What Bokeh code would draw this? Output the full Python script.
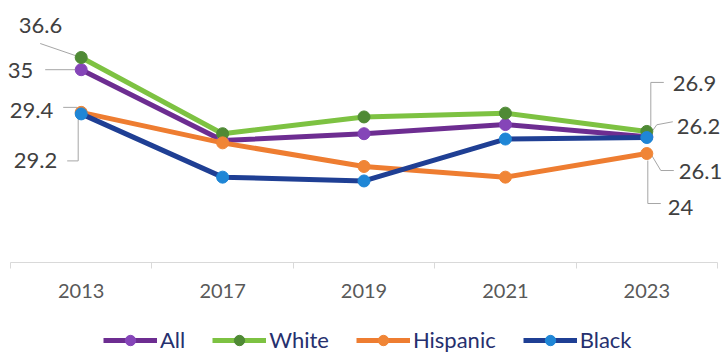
from bokeh.plotting import figure
from bokeh.layouts import column
from bokeh.models import Range1d, FixedTicker, ColumnDataSource, Legend, LegendItem
from bokeh.core.properties import value
from bokeh.embed import file_html
from bokeh.resources import INLINE

# ---------------- data ----------------
years = ["2013", "2017", "2019", "2021", "2023"]
series_names = ["All", "White", "Hispanic", "Black"]
all_vals = [35.0, 25.7, 26.6, 27.8, 26.2]
white_vals = [36.6, 26.6, 28.8, 29.3, 26.9]
hispanic_vals = [29.4, 25.4, 22.3, 20.9, 24.0]
black_vals = [29.2, 20.9, 20.4, 25.9, 26.1]
series_vals = [all_vals, white_vals, hispanic_vals, black_vals]

# ---------------- style ----------------
line_colors = ["#6d2d91", "#7dc242", "#ee7d31", "#1f3f94"]
marker_colors = ["#8545b8", "#4f8a35", "#f08536", "#1f86d6"]
FONT = "Lato"
W, H, LEG_H = 725, 305, 48
X_START, X_END = 0, len(years)
Y_START, Y_END = 9.7, 43.03
BORDER_L, BORDER_R, BORDER_T, BORDER_B = 10, 8, 8, 43
FRAME_W = W - BORDER_L - BORDER_R
FRAME_H = H - BORDER_T - BORDER_B
PX_X = FRAME_W / (X_END - X_START)
PX_Y = FRAME_H / (Y_END - Y_START)

# label layout: (series index, point index, text dx, text dy, leader path in px, align)
label_layout = [
    (1, 0, -19, -32, [(-6, -2), (-41, -14)], "right"),
    (0, 0, -48, 1, [(-36, 0), (-6, 0)], "right"),
    (2, 0, -28, -2, [(-18, -5), (-4, -5)], "right"),
    (3, 0, -24, 47, [(-14, 47), (-3, 47), (-3, 5)], "right"),
    (1, 4, 26, -48, [(17, -49), (4, -49), (4, -5)], "left"),
    (0, 4, 30, -10, [(26, -15), (10, -12), (5, -5)], "left"),
    (3, 4, 32, 34, [(27, 33), (14, 33), (5, 18)], "left"),
    (2, 4, 21, 54, [(14, 50), (1, 50), (1, 7)], "left"),
]

xs_centers = [i + 0.5 for i in range(len(years))]

p = figure(width=W, height=H, x_range=Range1d(X_START, X_END), y_range=Range1d(Y_START, Y_END),
           output_backend="svg", toolbar_location=None,
           min_border_left=BORDER_L, min_border_right=BORDER_R,
           min_border_top=BORDER_T, min_border_bottom=BORDER_B)
p.outline_line_color = None
p.background_fill_color = "white"
p.border_fill_color = "white"
p.grid.visible = False
p.yaxis.visible = False

ax = p.xaxis[0]
ax.ticker = FixedTicker(ticks=xs_centers, minor_ticks=list(range(len(years) + 1)))
ax.major_label_overrides = {c: y for c, y in zip(xs_centers, years)}
ax.axis_line_color = "#d9d9d9"
ax.axis_line_width = 1
ax.major_tick_out = 0
ax.major_tick_in = 0
ax.minor_tick_out = 6
ax.minor_tick_in = 0
ax.minor_tick_line_color = "#d9d9d9"
ax.major_label_standoff = 15
ax.major_label_text_font = FONT
ax.major_label_text_font_size = "20px"
ax.major_label_text_color = "#595959"

# leader lines
lx, ly = [], []
for si, pi, tdx, tdy, path, al in label_layout:
    x0 = xs_centers[pi]
    y0 = series_vals[si][pi]
    lx.append([x0 + dx / PX_X for dx, dy in path])
    ly.append([y0 - dy / PX_Y for dx, dy in path])
p.multi_line(xs=lx, ys=ly, line_color="#a6a6a6", line_width=1)

# series
for name, vals, lc, mc in zip(series_names, series_vals, line_colors, marker_colors):
    src = ColumnDataSource(dict(x=xs_centers, y=vals))
    p.line("x", "y", source=src, line_color=lc, line_width=5)
    p.scatter("x", "y", source=src, size=12, fill_color=mc, line_color=mc)

# data labels
for align in ("right", "left"):
    rows = [r for r in label_layout if r[5] == align]
    src = ColumnDataSource(dict(
        x=[xs_centers[r[1]] for r in rows],
        y=[series_vals[r[0]][r[1]] for r in rows],
        text=[f"{series_vals[r[0]][r[1]]:g}" for r in rows],
        dx=[r[2] for r in rows],
        dy=[r[3] for r in rows],
    ))
    p.text("x", "y", text="text", source=src, x_offset="dx", y_offset="dy",
           text_align=align, text_baseline="middle", text_font=value(FONT),
           text_font_size="22px", text_color="#404040", level="overlay")

# legend strip below the chart (same series, plotted outside this strip's visible window)
pl = figure(width=W, height=LEG_H, x_range=Range1d(X_START, X_END), y_range=Range1d(0, 1),
            output_backend="svg", toolbar_location=None,
            min_border_left=0, min_border_right=0, min_border_top=0, min_border_bottom=0)
pl.outline_line_color = None
pl.axis.visible = False
pl.grid.visible = False
items = []
for name, vals, lc, mc in zip(series_names, series_vals, line_colors, marker_colors):
    src = ColumnDataSource(dict(x=xs_centers, y=vals))
    lr = pl.line("x", "y", source=src, line_color=lc, line_width=5)
    sr = pl.scatter("x", "y", source=src, size=12, fill_color=mc, line_color=mc)
    items.append(LegendItem(label=name, renderers=[lr, sr]))
legend = Legend(items=items, orientation="horizontal", location=(93, 0),
                glyph_width=54, glyph_height=26, label_height=26, label_standoff=3,
                spacing=27, padding=0, margin=0,
                border_line_alpha=0, background_fill_alpha=0,
                label_text_font=FONT, label_text_font_size="22px",
                label_text_color="#26306e")
pl.add_layout(legend)

layout = column(p, pl, spacing=0)
open("out.html", "w").write(file_html(layout, INLINE))
